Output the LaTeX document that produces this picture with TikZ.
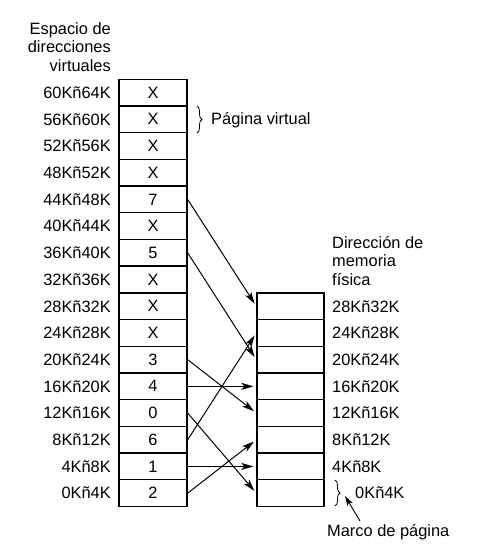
\documentclass[tikz,border=0pt]{standalone}
\usepackage{fontspec}
\setmainfont{Liberation Sans}
\usetikzlibrary{arrows.meta,decorations.pathreplacing}

\begin{document}
\begin{tikzpicture}[
		x=1pt, y=1pt,
		every node/.style={font=\fontsize{16.4}{18.5}\selectfont, inner sep=0pt},
		cell/.style={rectangle, draw, line width=1.4pt, minimum width=68pt, minimum height=26.7pt},
		map/.style={line width=1pt, -{Stealth[length=12pt, width=7pt, inset=3pt]}, shorten >=3pt},
		brc/.style={decorate, decoration={brace, amplitude=5pt}, line width=0.8pt}
	]
  \useasboundingbox (0,0) rectangle (481,552);
  \node (hdr_v) [anchor=east, align=right] at (111, 505) {Espacio de\\direcciones\\virtuales};
  \node (hdr_f) [anchor=west, align=left] at (332, 291) {Dirección de\\memoria\\física};
  \foreach \lab [count=\i from 0] in {2,1,6,0,4,3,X,X,X,5,X,7,X,X,X,X} {
    \pgfmathtruncatemacro{\lo}{4*\i}
    \pgfmathtruncatemacro{\hi}{4*\i+4}
    \node (v_\i) [cell] at (153, 58.85+26.7*\i) {\lab};
    \node (vl_\i) [anchor=east] at (111, 58.85+26.7*\i) {\lo Kñ\hi K};
  }
  \foreach \i in {0,...,7} {
    \node (f_\i) [cell, minimum width=67pt] at (290.5, 58.85+26.7*\i) {};
  }
  \foreach \i in {1,...,7} {
    \pgfmathtruncatemacro{\lo}{4*\i}
    \pgfmathtruncatemacro{\hi}{4*\i+4}
    \node (fl_\i) [anchor=west] at (332, 58.85+26.7*\i) {\lo Kñ\hi K};
  }
  \node (fl_0) [anchor=west] at (355, 59) {0Kñ4K};
  \foreach \p/\f in {0/2, 1/1, 2/6, 3/0, 4/4, 5/3, 9/5, 11/7}
    \draw[map] (v_\p.east) -- (f_\f.west);
  \coordinate (pv_top) at (197, 446);
  \coordinate (pv_bot) at (197, 419);
  \draw[brc] (pv_top) -- (pv_bot);
  \node (pv) [anchor=west] at (211, 432) {Página virtual};
  \coordinate (mp_top) at (335, 72);
  \coordinate (mp_bot) at (335, 46);
  \draw[brc] (mp_top) -- (mp_bot);
  \node (mp) [anchor=west] at (327, 20) {Marco de página};
  \coordinate (mp_tip) at (345, 56);
  \coordinate (mp_from) at (360, 31);
  \draw[line width=0.9pt, -{Stealth[length=10pt, width=6pt, inset=2.5pt]}] (mp_from) -- (mp_tip);
\end{tikzpicture}
\end{document}
